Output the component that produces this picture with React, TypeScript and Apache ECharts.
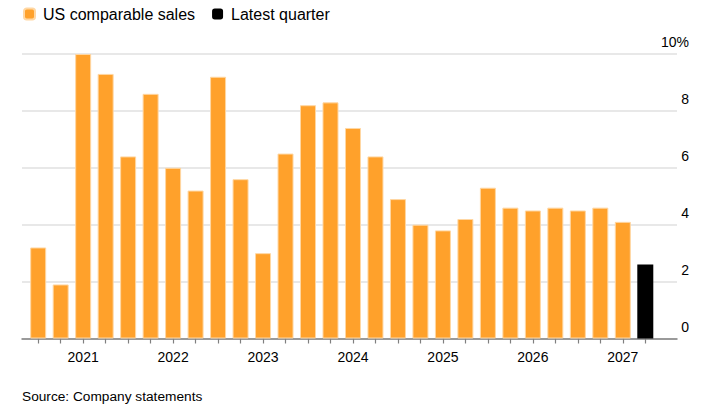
import React, { useEffect, useRef } from 'react';
import * as echarts from 'echarts';

// quarter each bar belongs to (first bar is Q3 2020)
const quarters = [
  '2020 Q3', '2020 Q4',
  '2021 Q1', '2021 Q2', '2021 Q3', '2021 Q4',
  '2022 Q1', '2022 Q2', '2022 Q3', '2022 Q4',
  '2023 Q1', '2023 Q2', '2023 Q3', '2023 Q4',
  '2024 Q1', '2024 Q2', '2024 Q3', '2024 Q4',
  '2025 Q1', '2025 Q2', '2025 Q3', '2025 Q4',
  '2026 Q1', '2026 Q2', '2026 Q3', '2026 Q4',
  '2027 Q1', '2027 Q2',
];

// US comparable sales growth, %
const salesValues = [
  3.2, 1.9,
  10.0, 9.3, 6.4, 8.6,
  6.0, 5.2, 9.2, 5.6,
  3.0, 6.5, 8.2, 8.3,
  7.4, 6.4, 4.9, 4.0,
  3.8, 4.2, 5.3, 4.6,
  4.5, 4.6, 4.5, 4.6,
  4.1,
];
const latestValue = 2.6;

const yTicks = [0, 2, 4, 6, 8, 10];

const FONT = '"Liberation Sans", Arial, Helvetica, sans-serif';
const ORANGE = '#ffa12b';

const App: React.FC = () => {
  const chartRef = useRef<HTMLDivElement>(null);

  useEffect(() => {
    document.body.style.margin = '0';
    if (!chartRef.current) return;
    const chart = echarts.init(chartRef.current, undefined, { renderer: 'svg' });

    const latestIndex = salesValues.length;
    const tickIdx = quarters.map((_, i) => i);
    const yearIdx = quarters.map((q, i) => (q.endsWith('Q1') ? i : -1)).filter((i) => i >= 0);

    chart.setOption({
      animation: false,
      textStyle: { fontFamily: FONT },
      legend: {
        left: 23,
        top: 6,
        padding: 0,
        itemWidth: 11,
        itemHeight: 11,
        itemGap: 17,
        icon: 'roundRect',
        textStyle: { fontSize: 16, color: '#000', fontFamily: FONT, padding: [0, 0, 0, 3] },
        data: ['US comparable sales', 'Latest quarter'],
      },
      grid: { left: 22, right: 29, top: 54, bottom: 68.5 },
      xAxis: {
        type: 'value',
        min: -0.72,
        max: 28.41,
        axisLine: { show: true, lineStyle: { color: '#808080', width: 1.5 } },
        axisTick: {
          show: true,
          customValues: tickIdx,
          length: 5,
          lineStyle: { color: '#808080', width: 1.2 },
        },
        axisLabel: {
          customValues: yearIdx,
          formatter: (v: number) => quarters[Math.round(v)]?.slice(0, 4) ?? '',
          fontSize: 14,
          color: '#000',
          margin: 11,
          fontFamily: FONT,
        },
        splitLine: { show: false },
      },
      yAxis: {
        type: 'value',
        position: 'right',
        min: yTicks[0],
        max: yTicks[yTicks.length - 1],
        interval: 2,
        axisLine: { show: false },
        axisTick: { show: false },
        splitLine: { show: true, lineStyle: { color: '#e0e0e0', width: 1.5 } },
        axisLabel: {
          formatter: (v: number) => (v === yTicks[yTicks.length - 1] ? `${v}%` : `${v}`),
          fontSize: 14,
          color: '#000',
          align: 'right',
          verticalAlign: 'bottom',
          lineHeight: 14,
          padding: [0, 0, 5, 0],
          margin: 12,
          fontFamily: FONT,
        },
      },
      series: [
        {
          name: 'US comparable sales',
          type: 'bar',
          barWidth: 16,
          barGap: '-100%',
          itemStyle: { color: ORANGE, borderColor: '#ffd7a3', borderWidth: 1 },
          data: salesValues.map((v, i) => [i, v]),
        },
        {
          name: 'Latest quarter',
          type: 'bar',
          barWidth: 16,
          barGap: '-100%',
          itemStyle: { color: '#000' },
          data: [[latestIndex, latestValue]],
        },
      ],
      graphic: [
        {
          type: 'text',
          left: 22,
          top: 389,
          style: { text: 'Source: Company statements', fontSize: 13.7, fill: '#000', fontFamily: FONT },
        },
      ],
    });

    return () => {
      chart.dispose();
    };
  }, []);

  return <div ref={chartRef} style={{ width: 706, height: 407 }} />;
};

export default App;
